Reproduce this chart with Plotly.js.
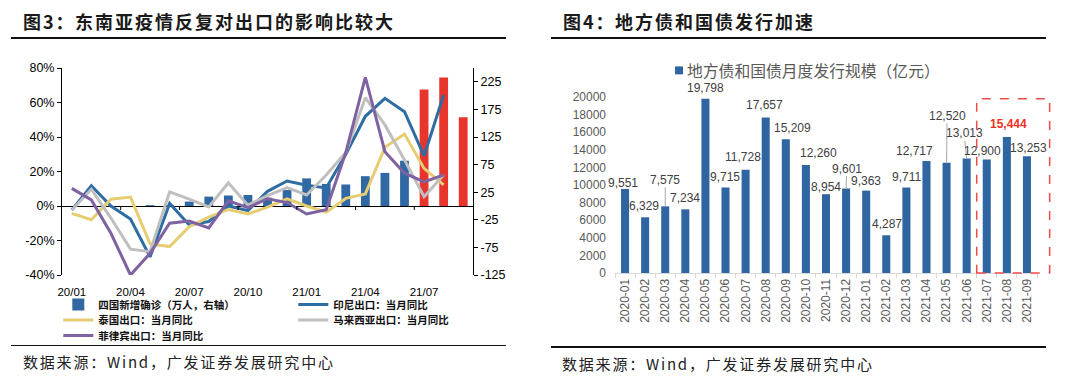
<!DOCTYPE html>
<html><head><meta charset="utf-8">
<script src="https://cdn.plot.ly/plotly-3.0.1.min.js"></script>
<style>
body{margin:0;width:1080px;height:379px;position:relative;background:#fff;overflow:hidden;font-family:"Noto Sans CJK SC",sans-serif;}
#c1{position:absolute;left:0;top:0;width:540px;height:379px;}
#c2{position:absolute;left:540px;top:0;width:540px;height:379px;}
.ov{position:absolute;z-index:5;white-space:nowrap;}
.title{top:10px;font-size:18px;font-weight:bold;letter-spacing:2px;line-height:22px;color:#1a1a1a;}
.title .main{position:absolute;left:52px;top:0;}
.rule{height:2px;background:#111;}
.rule2{height:1.5px;background:#111;}
.src{font-size:15px;letter-spacing:1.8px;line-height:18px;color:#222;}
</style></head>
<body>
<div id="c1"></div>
<div id="c2"></div>
<div class="ov title" style="left:23px;">图3：<span class="main">东南亚疫情反复对出口的影响比较大</span></div>
<div class="ov rule" style="left:11px;width:495px;top:37px;"></div>
<div class="ov rule2" style="left:11px;width:495px;top:344.5px;"></div>
<div class="ov src" style="left:23px;top:353px;">数据来源：Wind，广发证券发展研究中心</div>
<div class="ov title" style="left:563px;">图4：<span class="main">地方债和国债发行加速</span></div>
<div class="ov rule" style="left:551px;width:495px;top:37px;"></div>
<div class="ov rule2" style="left:551px;width:495px;top:346px;"></div>
<div class="ov src" style="left:562px;top:355px;">数据来源：Wind，广发证券发展研究中心</div>
<script>
// ---------- Chart 3 data ----------
const months = ['20/01','20/02','20/03','20/04','20/05','20/06','20/07','20/08','20/09','20/10','20/11','20/12',
                '21/01','21/02','21/03','21/04','21/05','21/06','21/07','21/08','21/09'];
const monthTickLabels = ['20/01','20/04','20/07','20/10','21/01','21/04','21/07'];
const newCases = [0,0,0,0,1.5,2,8,17,19,20,15,29,50,40,39,54,60,82,211,233,161]; // 万人, right axis
const highlightStart = 18;
const indonesia = [-2.3,11.8,0,-7.5,-29.5,1.5,-11,-9,0,-2.7,8.5,14.5,12,10.5,30,52,62.4,54.7,29,64.3];
const thailand = [-4.3,-8,3.9,5.2,-22,-23.5,-12,-6.5,-2,-4.6,-0.7,4.2,0,-3.6,4.4,7,34,41.7,21.8,12.2];
const malaysia = [-2.5,9.8,-7,-25,-26.5,8.2,4,-0.5,13.5,0.5,6,10.7,6.4,18,31,62.8,47,26.7,5.4,18];
const philippines = [10.2,3.5,-15.8,-40,-27.4,-10,-8.7,-12.7,3,-1,4.2,2,-4.6,-2.2,31,74.5,31.5,19,14,18];

// ---------- Chart 4 data ----------
const months2 = ['2020-01','2020-02','2020-03','2020-04','2020-05','2020-06','2020-07','2020-08','2020-09','2020-10','2020-11','2020-12',
                 '2021-01','2021-02','2021-03','2021-04','2021-05','2021-06','2021-07','2021-08','2021-09'];
const issuance = [9551,6329,7575,7234,19798,9715,11728,17657,15209,12260,8954,9601,9363,4287,9711,12717,12520,13013,12900,15444,13253];
const highlightLabel = '2021-08';

// label placement (pixels): [dx, dy, leader]
const labelPlacement = [[-2.5,-6.3,0],[-1,-11.4,0],[0,-26.4,1],[0,-11,0],[0,-10.7,0],[-1,-10.8,0],[-2.5,-13,0],[-1.6,-12.3,0],
  [6.3,-11.2,0],[13,-12.3,0],[0,-7.5,0],[0.7,-20,1],[0,-10,0],[0.5,-11.4,0],[0,-10.8,0],[-12.4,-10.2,0],[0.5,-47,1],[-2.6,-25,1],
  [-4.7,-8.3,0],[1.2,-12.9,0],[1.1,-8.5,0]];

const ARIAL = 'Arial, "Liberation Sans", sans-serif';
const CJK = '"Noto Sans CJK SC", sans-serif';

// ---------- Chart 3 ----------
const lineW = 3;
const lenLine = indonesia.length;
const traces1 = [
  {type:'bar', name:'四国新增确诊（万人，右轴）', x:months.slice(0,highlightStart), y:newCases.slice(0,highlightStart),
   marker:{color:'#2F68A2'}, width:0.45, yaxis:'y', legend:'legend'},
  {type:'bar', name:'四国新增确诊（近期）', x:months.slice(highlightStart), y:newCases.slice(highlightStart),
   marker:{color:'#E8342A'}, width:0.45, yaxis:'y', showlegend:false},
  {type:'scatter', mode:'lines', name:'印尼出口：当月同比', x:months.slice(0,lenLine), y:indonesia,
   line:{color:'#2E6DA4', width:lineW}, yaxis:'y2', legend:'legend'},
  {type:'scatter', mode:'lines', name:'泰国出口：当月同比', x:months.slice(0,lenLine), y:thailand,
   line:{color:'#E6CD72', width:lineW}, yaxis:'y2', legend:'legend2'},
  {type:'scatter', mode:'lines', name:'马来西亚出口：当月同比', x:months.slice(0,lenLine), y:malaysia,
   line:{color:'#BFBFBF', width:lineW}, yaxis:'y2', legend:'legend2'},
  {type:'scatter', mode:'lines', name:'菲律宾出口：当月同比', x:months.slice(0,lenLine), y:philippines,
   line:{color:'#7E62A1', width:lineW}, yaxis:'y2', legend:'legend3'}
];
const leftTicks = []; for (let v=-40; v<=80; v+=20) leftTicks.push(v);
const rightTicks = []; for (let v=-125; v<=225; v+=50) rightTicks.push(v);
const plotH1 = 207, y2Range = [-40,80];
const tickLenData = 4 * (y2Range[1]-y2Range[0]) / plotH1;
const tickShapes = [];
for (let b = 2.5; b < months.length - 1; b += 3) {
  tickShapes.push({type:'line', xref:'x', yref:'y2', x0:b, x1:b, y0:0, y1:-tickLenData, line:{color:'#000', width:1}});
}
const legFont = {family:CJK, size:10.5, color:'#111', weight:'bold'};
const legCommon = {orientation:'h', xanchor:'left', yanchor:'middle', x:-0.009, entrywidth:190, entrywidthmode:'pixels',
  bgcolor:'rgba(0,0,0,0)', font:legFont, itemwidth:30, tracegroupgap:0};
const layout1 = {
  width:540, height:379, margin:{l:62, r:67, t:68, b:104},
  paper_bgcolor:'#fff', plot_bgcolor:'rgba(0,0,0,0)', barmode:'overlay', showlegend:true,
  xaxis:{type:'category', categoryorder:'array', categoryarray:months, range:[-0.5,20.5], tickvals:monthTickLabels,
    ticks:'outside', ticklen:6, tickcolor:'rgba(0,0,0,0)', showline:false, showgrid:false, zeroline:false,
    tickfont:{family:ARIAL, size:11.5, color:'#000'}},
  yaxis:{side:'right', range:[-125,250], tickvals:rightTicks, ticktext:rightTicks.map(String), showline:true, linecolor:'#000',
    linewidth:1, ticks:'outside', ticklen:4, tickcolor:'#000', showgrid:false, zeroline:false,
    tickfont:{family:ARIAL, size:12.5, color:'#000'}},
  yaxis2:{side:'left', overlaying:'y', range:y2Range, tickvals:leftTicks, ticktext:leftTicks.map(v=>v+'%'), showline:true,
    linecolor:'#000', linewidth:1, ticks:'outside', ticklen:4, tickcolor:'#000', showgrid:false, zeroline:true,
    zerolinecolor:'#000', zerolinewidth:1, tickfont:{family:ARIAL, size:12.5, color:'#000'}},
  legend:Object.assign({}, legCommon, {y:-(304.5-275)/plotH1}),
  legend2:Object.assign({}, legCommon, {y:-(320-275)/plotH1}),
  legend3:Object.assign({}, legCommon, {y:-(335.5-275)/plotH1}),
  shapes:tickShapes
};
Plotly.newPlot('c1', traces1, layout1, {displayModeBar:false, staticPlot:true});

// ---------- Chart 4 ----------
const barColor2 = '#2F65A0';
const traces2 = [{type:'bar', name:'地方债和国债月度发行规模（亿元）', x:months2, y:issuance, width:0.4,
  marker:{color:barColor2}, showlegend:false}];
const ann2 = issuance.map((v,i)=>{
  const p = labelPlacement[i];
  const isHi = months2[i] === highlightLabel;
  const a = {x:months2[i], y:v, text:v.toLocaleString('en-US'), xref:'x', yref:'y',
    font:{family:ARIAL, size:12, color: isHi ? '#EE3124' : '#404040', weight: isHi ? 'bold' : 'normal'}};
  if (p[2]) {
    Object.assign(a, {showarrow:true, arrowhead:0, arrowwidth:1, arrowcolor:'#A6A6A6', ax:p[0], ay:p[1], axref:'pixel', ayref:'pixel', standoff:0, borderpad:0});
  } else {
    Object.assign(a, {showarrow:false, xshift:p[0], yshift:-p[1], yanchor:'middle', xanchor:'center'});
  }
  return a;
});
const plotH2 = 176.6, plotW2 = 421.7;
// legend text
ann2.push({xref:'paper', yref:'paper', x:(685-615)/plotW2, y:1+(96.7-70)/plotH2, xanchor:'left', yanchor:'middle',
  showarrow:false, text:traces2[0].name, font:{family:CJK, size:15.8, color:'#595959'}});
const yTicks2 = []; for (let v=0; v<=20000; v+=2000) yTicks2.push(v);
const boxIdx = [17.5, 21.13], boxTop = 19800;
const layout2 = {
  width:540, height:379, margin:{l:75, r:43.3, t:96.7, b:105.7},
  paper_bgcolor:'#fff', plot_bgcolor:'rgba(0,0,0,0)', showlegend:false,
  xaxis:{type:'category', categoryorder:'array', categoryarray:months2, range:[-0.5,20.5], tickangle:-90,
    showline:true, linecolor:'#D9D9D9', linewidth:1, ticks:'outside', tickson:'boundaries', ticklen:4, tickcolor:'#D9D9D9',
    showgrid:false, zeroline:false, tickfont:{family:ARIAL, size:12, color:'#595959'}},
  yaxis:{range:[0,20000], tickvals:yTicks2, ticktext:yTicks2.map(String), showline:false, ticks:'', showgrid:false,
    zeroline:false, ticklabelstandoff:8, tickfont:{family:ARIAL, size:12, color:'#595959'}},
  annotations:ann2,
  shapes:[
    {type:'rect', xref:'paper', yref:'paper', x0:(675-615)/plotW2, x1:(683-615)/plotW2,
     y0:1+(96.7-74)/plotH2, y1:1+(96.7-66)/plotH2, fillcolor:barColor2, line:{width:0}},
    {type:'rect', xref:'paper', yref:'paper', x0:(boxIdx[0]+0.5)/21, x1:(boxIdx[1]+0.5)/21, y0:0, y1:boxTop/20000,
     line:{color:'#EF4B4B', width:1.5, dash:'dash'}, fillcolor:'rgba(0,0,0,0)'}
  ]
};
Plotly.newPlot('c2', traces2, layout2, {displayModeBar:false, staticPlot:true});
</script>
</body></html>
